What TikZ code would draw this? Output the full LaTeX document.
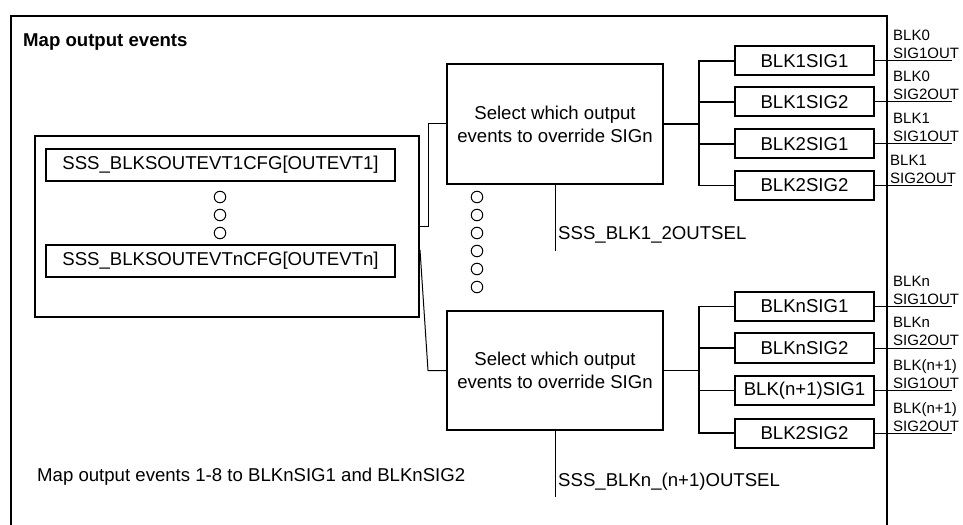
\documentclass[tikz,border=0pt]{standalone}
\usepackage{fontspec}
\setmainfont{Liberation Sans}
\begin{document}
\begin{tikzpicture}[x=1bp,y=-1bp,
  big/.style={font=\fontsize{18.6bp}{23bp}\selectfont},
  small/.style={font=\fontsize{15bp}{19bp}\selectfont},
  box/.style={draw, line width=2bp, inner sep=0pt, big},
  blk/.style={box, minimum width=139bp, minimum height=29bp},
  ring/.style={draw, circle, line width=1bp, minimum size=11.5bp, inner sep=0pt},
  thin/.style={line width=1bp},
  bus/.style={line width=1.6bp},
  lbl/.style={small, anchor=base west, inner sep=0pt},
  txt/.style={big, anchor=base west, inner sep=0pt}]
\useasboundingbox (0,0) rectangle (963,525);
% frame
\draw[line width=2.2bp] (11,540) -- (11,16) -- (887,16) -- (887,540);
\node[txt, font={\fontsize{18.6bp}{23bp}\selectfont\bfseries}] (title) at (23,47) {Map output events};
% left configuration box
\node[box, minimum width=384bp, minimum height=181bp] (lbox) at (227,226.5) {};
\node[box, minimum width=349bp, minimum height=32bp] (cfg1) at (220.5,165) {SSS\_BLKSOUTEVT1CFG[OUTEVT1]};
\node[box, minimum width=349bp, minimum height=32bp] (cfgn) at (220.5,261) {SSS\_BLKSOUTEVTnCFG[OUTEVTn]};
\foreach \i/\y in {1/197,2/215,3/233} \node[ring] (ld\i) at (220,\y) {};
% select boxes
\node[box, minimum width=216bp, minimum height=120bp, align=center] (sel1) at (555,124) {Select which output\\events to override SIGn};
\node[box, minimum width=216bp, minimum height=119bp, align=center] (sel2) at (555,370.5) {Select which output\\events to override SIGn};
\foreach \i/\y in {1/197,2/215,3/233,4/251,5/269,6/287} \node[ring] (md\i) at (477,\y) {};
% connectors from left box
\draw[thin] (lbox.east) -- ++(8,0) |- (sel1.west);
\draw[thin] ([yshift=-23.5bp]lbox.east) -- ++(8,120.5) -- (sel2.west);
% select register lines
\coordinate (s1e) at (555,251);
\coordinate (s2e) at (555,497);
\draw[thin] (sel1.south) -- (s1e);
\draw[thin] (sel2.south) -- (s2e);
\node[txt] (r1) at (558,240) {SSS\_BLK1\_2OUTSEL};
\node[txt] (r2) at (558,486.5) {SSS\_BLKn\_(n+1)OUTSEL};
% signal boxes
\node[blk] (b11) at (804.5,61) {BLK1SIG1};
\node[blk] (b12) at (804.5,102) {BLK1SIG2};
\node[blk] (b21) at (804.5,144) {BLK2SIG1};
\node[blk] (b22) at (804.5,185.5) {BLK2SIG2};
\node[blk] (bn1) at (804.5,306.5) {BLKnSIG1};
\node[blk] (bn2) at (804.5,348) {BLKnSIG2};
\node[blk] (bm1) at (804.5,390.5) {BLK(n+1)SIG1};
\node[blk] (bm2) at (804.5,433) {BLK2SIG2};
\coordinate (bus1) at (699,124);
\coordinate (bus2) at (699,370.5);
\draw[bus] (sel1.east) -- (bus1);
\draw[bus] (sel2.east) -- (bus2);
\foreach \b in {b11,b12,b21,b22} \draw[bus] (\b.west) -| (bus1);
\foreach \b in {bn1,bn2,bm1,bm2} \draw[bus] (\b.west) -| (bus2);
\coordinate (oend) at (952,0);
\foreach \b in {b11,b12,b21,b22,bn1,bn2,bm1,bm2} \draw[thin] (\b.east) -- (\b.east -| oend);
% output labels
\node[lbl] (l1a) at (893,41) {BLK0};
\node[lbl] (l1b) at (893,59) {SIG1OUT};
\node[lbl] (l2a) at (893,82) {BLK0};
\node[lbl] (l2b) at (893,100) {SIG2OUT};
\node[lbl] (l3a) at (893,124) {BLK1};
\node[lbl] (l3b) at (893,142) {SIG1OUT};
\node[lbl] (l4a) at (890,166) {BLK1};
\node[lbl] (l4b) at (890,183.5) {SIG2OUT};
\node[lbl] (l5a) at (893,286.5) {BLKn};
\node[lbl] (l5b) at (893,304.5) {SIG1OUT};
\node[lbl] (l6a) at (893,328) {BLKn};
\node[lbl] (l6b) at (893,346) {SIG2OUT};
\node[lbl] (l7a) at (893,370.5) {BLK(n+1)};
\node[lbl] (l7b) at (893,388.5) {SIG1OUT};
\node[lbl] (l8a) at (893,413) {BLK(n+1)};
\node[lbl] (l8b) at (893,431) {SIG2OUT};
% note
\node[txt] (note) at (37,481) {Map output events 1-8 to BLKnSIG1 and BLKnSIG2};
\end{tikzpicture}
\end{document}
